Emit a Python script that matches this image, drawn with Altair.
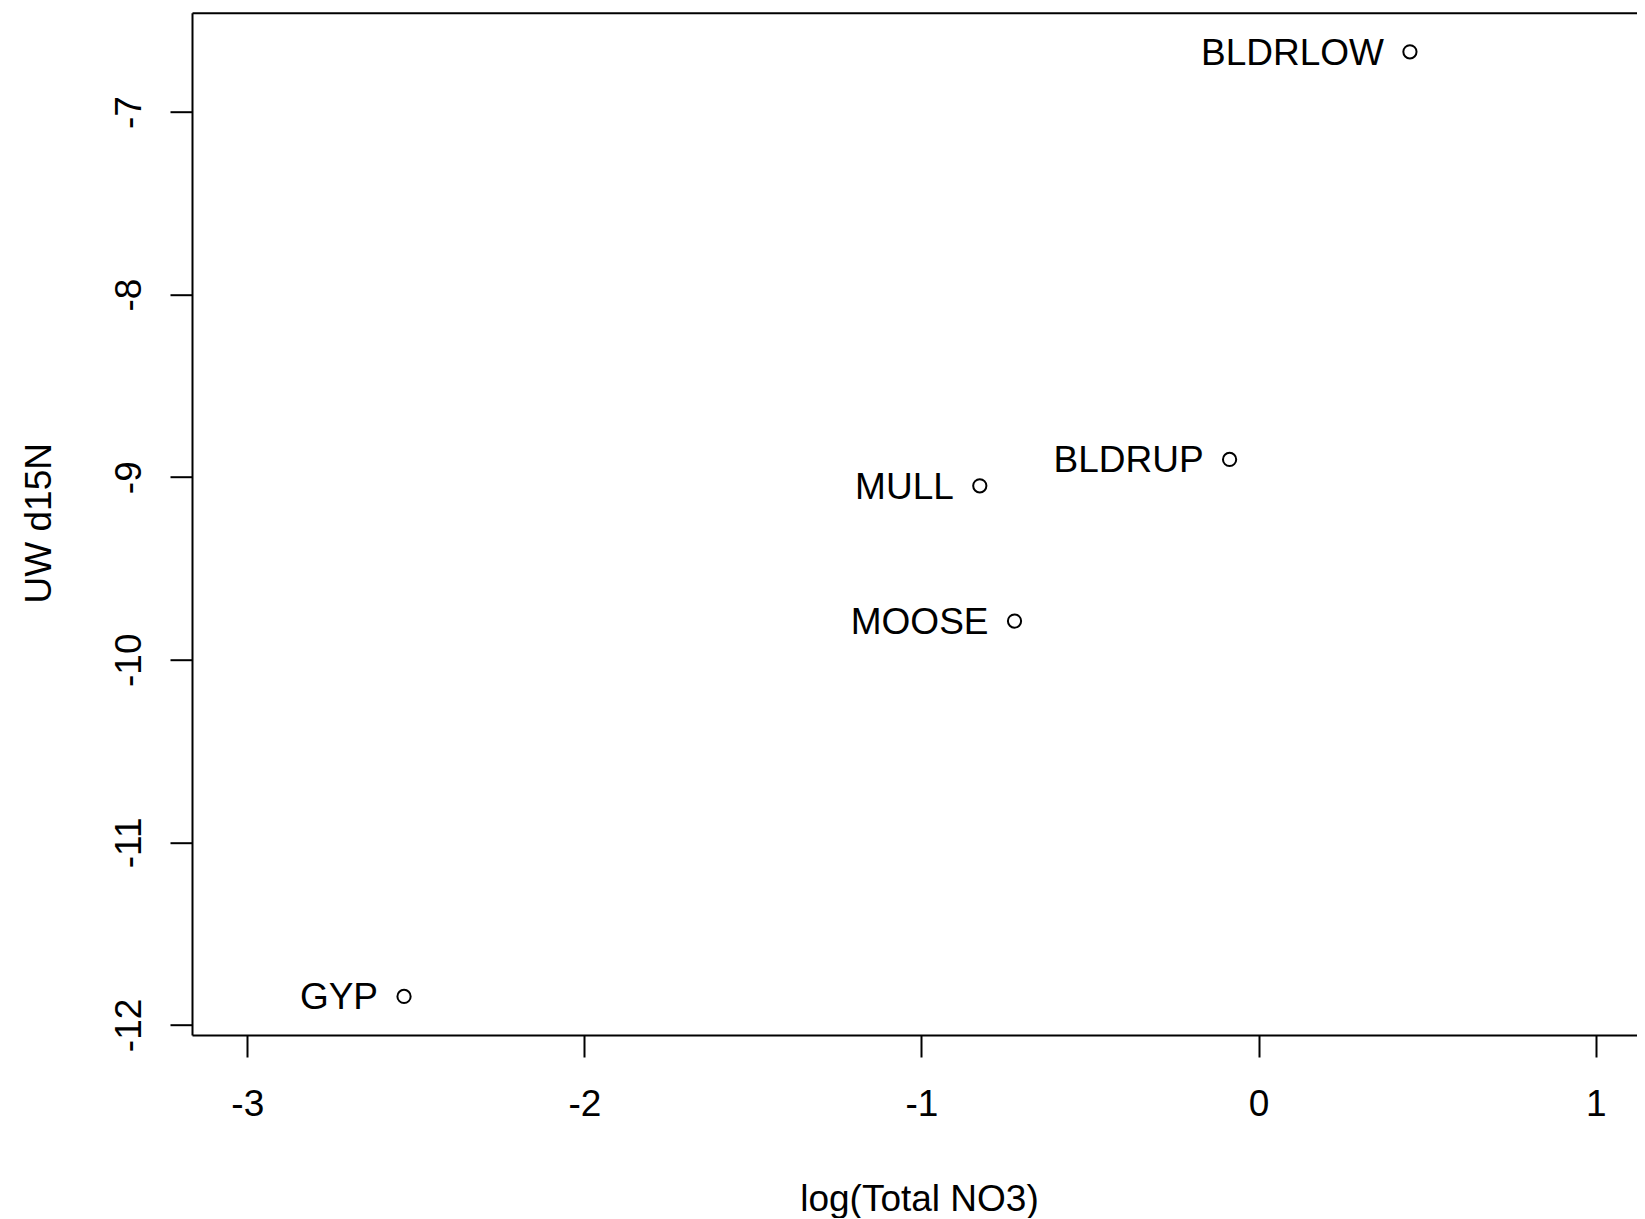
import altair as alt
import pandas as pd

sites = ["BLDRLOW", "BLDRUP", "MULL", "MOOSE", "GYP"]
log_no3 = [0.449, -0.086, -0.827, -0.724, -2.535]
uw_d15n = [-6.670, -8.903, -9.047, -9.788, -11.844]

x_ticks = [-3, -2, -1, 0, 1]
y_ticks = [-12, -11, -10, -9, -8, -7]

df = pd.DataFrame({"site": sites, "x": log_no3, "y": uw_d15n})

FONT = "Liberation Sans"
FS = 37
W, H = 1445, 1022.3
xdom = [-3.164, 1.1226]
ydom = [-12.055, -6.456]
LABEL = "datum.value + ''"

base = alt.Chart(df)

points = base.mark_point(
    shape="circle", filled=False, size=175, stroke="black", strokeWidth=2, opacity=1
).encode(
    x=alt.X("x:Q", scale=alt.Scale(domain=xdom, nice=False, zero=False),
            axis=alt.Axis(values=x_ticks, title="log(Total NO3)", grid=False,
                          labelExpr=LABEL,
                          domainColor="black", domainWidth=2,
                          tickColor="black", tickWidth=2, tickSize=22,
                          labelFont=FONT, labelFontSize=FS, labelColor="black",
                          labelBaseline="alphabetic", labelPadding=58,
                          labelFlush=False, labelOverlap=False,
                          titleFont=FONT, titleFontSize=FS, titleFontWeight="normal",
                          titleColor="black", titleX=727, titleY=175,
                          titleAlign="center", titleBaseline="alphabetic")),
    y=alt.Y("y:Q", scale=alt.Scale(domain=ydom, nice=False, zero=False),
            axis=alt.Axis(values=y_ticks, title="UW d15N", grid=False,
                          labelExpr=LABEL,
                          domainColor="black", domainWidth=2,
                          tickColor="black", tickWidth=2, tickSize=22,
                          labelFont=FONT, labelFontSize=FS, labelColor="black",
                          labelAngle=270, labelAlign="center",
                          labelBaseline="alphabetic", labelPadding=30,
                          labelFlush=False, labelOverlap=False,
                          titleFont=FONT, titleFontSize=FS, titleFontWeight="normal",
                          titleColor="black", titleAngle=270, titleX=-142, titleY=510,
                          titleAlign="center", titleBaseline="alphabetic")),
)

labels = base.mark_text(
    align="right", baseline="alphabetic", dx=-26, dy=13,
    font=FONT, fontSize=FS, color="black"
).encode(
    x=alt.X("x:Q", scale=alt.Scale(domain=xdom, nice=False, zero=False),
            axis=alt.Axis(orient="top", labels=False, ticks=False, title=None,
                          grid=False, domainColor="black", domainWidth=2)),
    y=alt.Y("y:Q", scale=alt.Scale(domain=ydom, nice=False, zero=False)),
    text="site:N",
)

chart = alt.layer(points, labels).resolve_scale(x="independent").properties(
    width=W, height=H,
    autosize=alt.AutoSizeParams(type="none"),
    padding={"left": 184, "top": 4.7, "right": 0, "bottom": 183},
    background="white",
).configure_view(stroke=None)

chart.save("out.html", embed_options={"renderer": "svg", "actions": False})
